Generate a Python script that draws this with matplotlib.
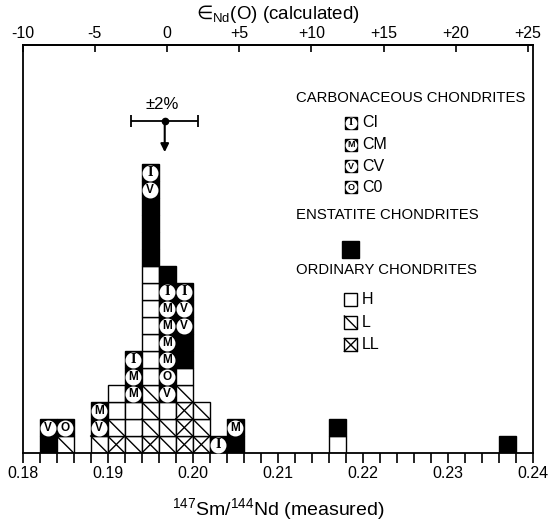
import numpy as np
import matplotlib.pyplot as plt
from matplotlib.patches import Rectangle

plt.rcParams['font.family'] = ['Liberation Sans', 'DejaVu Sans']
plt.rcParams['mathtext.fontset'] = 'custom'
plt.rcParams['mathtext.rm'] = 'Liberation Sans'
plt.rcParams['mathtext.it'] = 'Liberation Sans:italic'
plt.rcParams['mathtext.sf'] = 'DejaVu Sans'
plt.rcParams['mathtext.fallback'] = 'stixsans'
plt.rcParams['axes.unicode_minus'] = False

# left edges of the 0.002-wide 147Sm/144Nd bins that hold meteorites
bin_left = [0.182, 0.184, 0.188, 0.190, 0.192, 0.194, 0.196,
            0.198, 0.200, 0.202, 0.204, 0.216, 0.236]
bin_width = 0.002

# meteorite class of each square, stacked from the bottom up
stacks = [
    ['E', 'CV'],
    ['L', 'CO'],
    ['L', 'CV', 'CM'],
    ['LL', 'L', 'H', 'H'],
    ['L', 'H', 'H', 'CM', 'CM', 'CI'],
    ['LL', 'L', 'L', 'L', 'H', 'H', 'H', 'H', 'H', 'H', 'H',
     'E', 'E', 'E', 'E', 'CV', 'CI'],
    ['L', 'L', 'H', 'CV', 'CO', 'CM', 'CM', 'CM', 'CM', 'CI', 'E'],
    ['LL', 'LL', 'LL', 'L', 'H', 'E', 'E', 'CV', 'CV', 'CI'],
    ['LL', 'L', 'L'],
    ['CI'],
    ['E', 'CM'],
    ['H', 'E'],
    ['E'],
]

letters = {'CI': 'I', 'CM': 'M', 'CV': 'V', 'CO': 'O'}

# chondritic reference ratio and its +-2% uncertainty
chur = 0.1967
err_pct = 2.0

# top axis: epsilon Nd(0) is linear in the measured ratio,
# -10 at 0.18 and +25 at 0.2394
eps_ticks = [-10, -5, 0, 5, 10, 15, 20, 25]
eps_ref_ratio = 0.18
eps_ref = -10.0
eps_per_ratio = 35 / 0.0594


def to_eps(r):
    return eps_ref + (np.asarray(r) - eps_ref_ratio) * eps_per_ratio


def to_ratio(e):
    return eps_ref_ratio + (np.asarray(e) - eps_ref) / eps_per_ratio


LW = 1.0


def draw_cell(ax, x0, y0, kind):
    w = bin_width
    if kind in ('H', 'L', 'LL'):
        ax.add_patch(Rectangle((x0, y0), w, 1, facecolor='white',
                               edgecolor='black', lw=LW, zorder=2))
        if kind in ('L', 'LL'):
            ax.plot([x0, x0 + w], [y0 + 1, y0], color='black', lw=LW, zorder=3)
        if kind == 'LL':
            ax.plot([x0, x0 + w], [y0, y0 + 1], color='black', lw=LW, zorder=3)
    else:
        ax.add_patch(Rectangle((x0, y0), w, 1, facecolor='black',
                               edgecolor='black', lw=LW, zorder=2))
        if kind in letters:
            xc, yc = x0 + w / 2, y0 + 0.5
            ax.plot(xc, yc, 'o', ms=10.5, mfc='white', mec='white', zorder=4)
            ch = letters[kind]
            fam = ['DejaVu Serif'] if ch == 'I' else ['Liberation Sans']
            ax.text(xc, yc, ch, ha='center', va='center', fontsize=8.5,
                    fontweight='bold', family=fam, zorder=5)


fig = plt.figure(figsize=(5.49, 5.28), dpi=100)
ax = fig.add_axes([0.0413, 0.142, 0.9296, 0.7727])

for x0, stack in zip(bin_left, stacks):
    for level, kind in enumerate(stack):
        draw_cell(ax, x0, level, kind)

ax.set_xlim(0.18, 0.24)
ax.set_ylim(0, 24)
ax.set_yticks([])
for sp in ax.spines.values():
    sp.set_linewidth(1.3)

ticks = np.round(np.arange(0.18, 0.2401, 0.002), 3)
ax.set_xticks(ticks)
ax.set_xticklabels([f'{t:.2f}' if abs(t * 100 - round(t * 100)) < 1e-6 else ''
                    for t in ticks])
ax.tick_params(axis='x', direction='out', length=7, width=1.2, pad=2,
               labelsize=11.5)
ax.set_xlabel(r'$^{147}$Sm/$^{144}$Nd (measured)', fontsize=14, labelpad=11)

sec = ax.secondary_xaxis('top', functions=(to_eps, to_ratio))
sec.set_xticks(eps_ticks)
sec.set_xticklabels([f'{e:+d}' if e > 0 else f'{e:d}' for e in eps_ticks])
sec.tick_params(direction='in', length=5, width=1.2, pad=3, labelsize=11.5)
sec.spines['top'].set_linewidth(1.3)
sec.set_xlabel('$\\mathsf{\u2208}_{\\mathrm{Nd}}$(O) (calculated)',
               fontsize=13.5, labelpad=5)

# +-2% bar on the chondritic value with an arrow pointing down
bar_y = 19.53
ax.errorbar([chur], [bar_y], xerr=[chur * err_pct / 100], fmt='o', color='black',
            ms=4.5, capsize=4, elinewidth=1.3, capthick=1.3)
ax.annotate('', xy=(chur, 17.7), xytext=(chur, bar_y),
            arrowprops=dict(arrowstyle='-|>', color='black', lw=1.5,
                            mutation_scale=12, shrinkA=0, shrinkB=0))
ax.text(chur - 0.0003, bar_y + 0.55, '\u00b12%', ha='center', va='bottom',
        fontsize=12)

# legend, drawn in axes fractions
tA = ax.transAxes
head_x = 0.5356
sym_x = 0.643
lab_x = 0.665
sw, sh = 12 / 510.3, 12 / 408


def legend_box(yc, kind, w=sw, h=sh):
    x0, y0 = sym_x - w / 2, yc - h / 2
    face = 'white' if kind in ('H', 'L', 'LL') else 'black'
    ax.add_patch(Rectangle((x0, y0), w, h, facecolor=face, edgecolor='black',
                           lw=LW, transform=tA, clip_on=False))
    if kind in ('L', 'LL'):
        ax.plot([x0, x0 + w], [y0 + h, y0], color='black', lw=LW, transform=tA)
    if kind == 'LL':
        ax.plot([x0, x0 + w], [y0, y0 + h], color='black', lw=LW, transform=tA)
    if kind in letters:
        ax.plot(sym_x, yc, 'o', ms=7.5, mfc='white', mec='white', transform=tA)
        ch = letters[kind]
        fam = ['DejaVu Serif'] if ch == 'I' else ['Liberation Sans']
        ax.text(sym_x, yc, ch, ha='center', va='center', fontsize=6.5,
                fontweight='bold', family=fam, transform=tA)


ax.text(head_x, 0.870, 'CARBONACEOUS CHONDRITES', transform=tA,
        va='center', fontsize=10.75)
for yc, kind, lab in [(0.809, 'CI', 'CI'), (0.755, 'CM', 'CM'),
                      (0.703, 'CV', 'CV'), (0.652, 'CO', 'C0')]:
    legend_box(yc, kind)
    ax.text(lab_x, yc, lab, transform=tA, va='center', fontsize=11.5)

ax.text(head_x, 0.583, 'ENSTATITE CHONDRITES', transform=tA,
        va='center', fontsize=10.75)
legend_box(0.50, 'E', w=17 / 510.3, h=17 / 408)

ax.text(head_x, 0.448, 'ORDINARY CHONDRITES', transform=tA,
        va='center', fontsize=10.75)
for yc, kind in [(0.376, 'H'), (0.320, 'L'), (0.265, 'LL')]:
    legend_box(yc, kind, w=13 / 510.3, h=13 / 408)
    ax.text(lab_x, yc, kind, transform=tA, va='center', fontsize=11.5)

fig.savefig('out.png', dpi=100)
